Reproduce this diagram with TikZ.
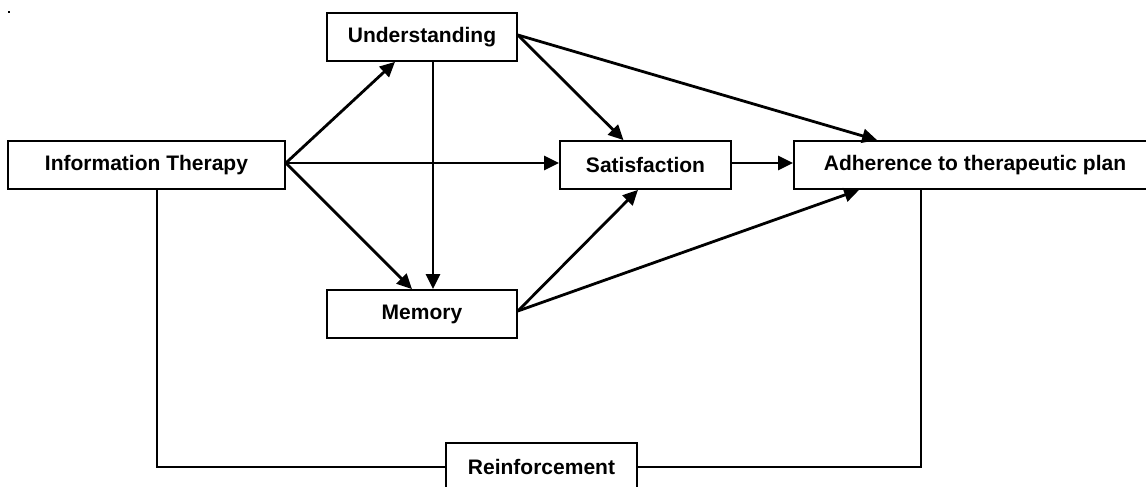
\documentclass[tikz,border=0pt]{standalone}
\usepackage{fontspec}
\setmainfont{Liberation Sans}
\usetikzlibrary{arrows.meta}
\begin{document}
\begin{tikzpicture}[x=1pt,y=-1pt,
  box/.style={draw, line width=1.7pt, inner sep=0pt, minimum height=48pt,
    font=\fontsize{21}{25}\selectfont\bfseries},
  link/.style={line width=2.8pt, -{Triangle[length=15pt,width=14pt]}},
  loop/.style={line width=1.7pt}]
  \useasboundingbox (0,0) rectangle (1146,487);
  \begin{scope}
  \clip (0,0) rectangle (1146,487);
  % stray speck in the corner
  \fill (7.5,11.5) rectangle (9.5,12.8);

  % boxes
  \node[box, minimum width=277pt] (it) at (146.5,165) {Information Therapy};
  \node[box, minimum width=190pt] (un) at (422,37) {Understanding};
  \node[box, minimum width=190pt] (me) at (422,314) {Memory};
  \node[box, minimum width=171pt] (sa) at (645.5,165) {Satisfaction};
  \node[box, minimum width=362pt] (ad) at (975,165) {Adherence to therapeutic plan};
  \node[box, minimum width=191pt] (re) at (541.5,467) {Reinforcement};

  % connectors
  \coordinate (itout) at ([yshift=2pt]it.east);
  \coordinate (unout) at ([yshift=2pt]un.east);
  \coordinate (meout) at ([yshift=3pt]me.east);
  \draw[link] (itout) -- ([xshift=-27pt]un.south);
  \draw[link] (itout) -- ([yshift=2pt]sa.west);
  \draw[link] (itout) -- ([xshift=-10pt]me.north);
  \draw[link] ([xshift=11pt]un.south) -- ([xshift=11pt]me.north);
  \draw[link] (unout) -- ([xshift=-22pt]sa.north);
  \draw[link] (unout) -- ([xshift=84pt]ad.north west);
  \draw[link] ([yshift=2pt]sa.east) -- ([yshift=2pt]ad.west);
  \draw[link] (meout) -- ([xshift=-7.5pt]sa.south);
  \draw[link] (meout) -- ([xshift=66pt]ad.south west);

  % feedback loop through reinforcement
  \draw[loop] ([xshift=10.5pt]it.south) |- (re.west);
  \draw[loop] (re.east) -| ([xshift=128pt]ad.south west);
  \end{scope}
\end{tikzpicture}
\end{document}
